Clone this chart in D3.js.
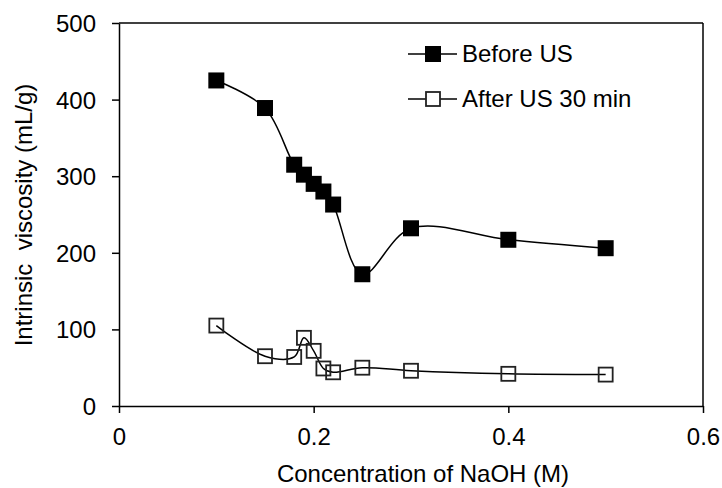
<!DOCTYPE html>
<html>
<head>
<meta charset="utf-8">
<script src="https://cdn.jsdelivr.net/npm/d3@7"></script>
<style>
  body { margin: 0; background: #fff; }
  svg text { font-family: "Liberation Sans", Arial, sans-serif; fill: #000; }
</style>
</head>
<body>
<div id="chart"></div>
<script>
// NaOH concentration (M)
var naoh = [0.1, 0.15, 0.18, 0.19, 0.2, 0.21, 0.22, 0.25, 0.3, 0.4, 0.5];
// intrinsic viscosity (mL/g)
var beforeUS = [425, 389, 315, 302, 290, 280, 263, 172, 232, 217, 206];
var afterUS = [105, 65, 64, 89, 72, 49, 44, 50, 46, 42, 41];
var xTicks = [0, 0.2, 0.4, 0.6];
var yTicks = [0, 100, 200, 300, 400, 500];
var seriesNames = ["Before US", "After US 30 min"];

var width = 722, height = 488;
var margin = {top: 23, left: 119, right: 19, bottom: 82};

var svg = d3.select("#chart").append("svg").attr("width", width).attr("height", height);

var x = d3.scaleLinear().domain([0, 0.6]).range([margin.left, width - margin.right]);
var y = d3.scaleLinear().domain([0, 500]).range([height - margin.bottom, margin.top]);

// frame (top + right)
svg.append("line").attr("x1", x(0)).attr("x2", x(0.6)).attr("y1", y(500)).attr("y2", y(500))
  .attr("stroke", "#000").attr("stroke-width", 1.5);
svg.append("line").attr("x1", x(0.6)).attr("x2", x(0.6)).attr("y1", y(500)).attr("y2", y(0))
  .attr("stroke", "#000").attr("stroke-width", 1.5);

var xAxis = d3.axisBottom(x).tickValues(xTicks).tickSize(7).tickSizeOuter(0)
  .tickFormat(function(d){ return d === 0 ? "0" : d3.format(".1f")(d); });
var yAxis = d3.axisLeft(y).tickValues(yTicks).tickSize(7).tickSizeOuter(0).tickFormat(d3.format("d"));

var gx = svg.append("g").attr("transform", "translate(0," + y(0) + ")").call(xAxis);
var gy = svg.append("g").attr("transform", "translate(" + x(0) + ",0)").call(yAxis);
[gx, gy].forEach(function(g){
  g.selectAll("path, line").attr("stroke", "#000").attr("stroke-width", 1.5);
  g.selectAll("text").attr("font-size", 24).attr("font-family", "Liberation Sans, Arial, sans-serif").attr("fill", "#000");
});
gx.selectAll("text").attr("dy", null).attr("y", 39);
gy.selectAll("text").attr("x", -23).attr("dy", "0.35em");

// axis titles
svg.append("text").attr("x", 423).attr("y", 482).attr("text-anchor", "middle")
  .attr("font-size", 24).text("Concentration of NaOH (M)");
svg.append("text").attr("transform", "translate(32,215) rotate(-90)").attr("text-anchor", "middle")
  .attr("font-size", 24).style("white-space", "pre").text("Intrinsic  viscosity (mL/g)");

var line = d3.line()
  .x(function(d, i){ return x(naoh[i]); })
  .y(function(d){ return y(d); })
  .curve(d3.curveCatmullRom.alpha(0.5));

function drawSeries(vals, filled, cls){
  svg.append("path").datum(vals).attr("d", line)
    .attr("fill", "none").attr("stroke", "#000").attr("stroke-width", 1.5);
  var s = filled ? 16 : 14;
  svg.selectAll("." + cls).data(vals).enter().append("rect")
    .attr("class", cls)
    .attr("x", function(d, i){ return x(naoh[i]) - s / 2; })
    .attr("y", function(d){ return y(d) - s / 2; })
    .attr("width", s).attr("height", s)
    .attr("fill", filled ? "#000" : "none")
    .attr("stroke", filled ? "none" : "#222")
    .attr("stroke-width", filled ? 0 : 1.8);
}
drawSeries(beforeUS, true, "before");
drawSeries(afterUS, false, "after");

// legend
var legend = svg.append("g");
seriesNames.forEach(function(name, i){
  var ly = 54 + i * 45;
  legend.append("line").attr("x1", 408).attr("x2", 457).attr("y1", ly).attr("y2", ly)
    .attr("stroke", "#000").attr("stroke-width", 1.5);
  var s = i === 0 ? 16 : 14;
  legend.append("rect").attr("x", 433 - s / 2).attr("y", ly - s / 2).attr("width", s).attr("height", s)
    .attr("fill", i === 0 ? "#000" : "#fff").attr("stroke", i === 0 ? "none" : "#222")
    .attr("stroke-width", i === 0 ? 0 : 1.8);
  legend.append("text").attr("x", 462).attr("y", ly).attr("dy", "0.35em")
    .attr("font-size", 24).text(name);
});
</script>
</body>
</html>
